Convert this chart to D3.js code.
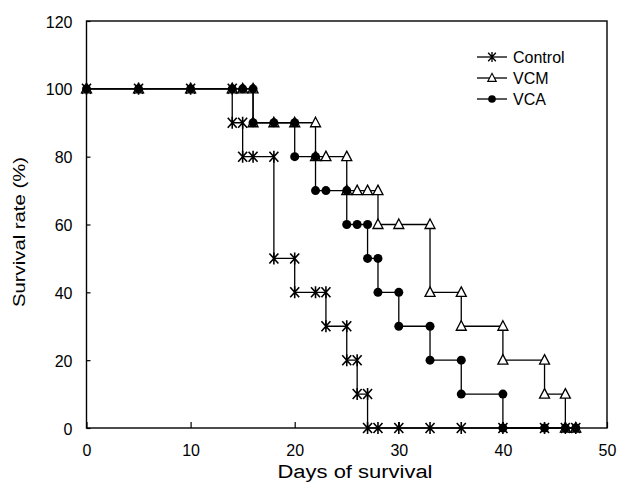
<!DOCTYPE html>
<html>
<head>
<meta charset="utf-8">
<script src="https://cdn.jsdelivr.net/npm/d3@7"></script>
<style>
  body { margin: 0; background: #fff; }
  text { font-family: "Liberation Sans", Arial, sans-serif; fill: #000; }
</style>
</head>
<body>
<script>
// data
let seriesNames = ["Control", "VCM", "VCA"];

let controlDays = [0,5,10,14,14,15,15,16,18,18,20,20,22,23,23,25,25,26,26,27,27,28,30,33,36,40,44,46,47];
let controlRate = [100,100,100,100,90,90,80,80,80,50,50,40,40,40,30,30,20,20,10,10,0,0,0,0,0,0,0,0,0];

let vcmDays = [0,5,10,14,15,16,16,18,20,22,22,23,25,25,26,27,28,28,30,33,33,36,36,40,40,44,44,46,46,47];
let vcmRate = [100,100,100,100,100,100,90,90,90,90,80,80,80,70,70,70,70,60,60,60,40,40,30,30,20,20,10,10,0,0];

let vcaDays = [0,5,10,14,15,16,16,18,20,20,22,22,23,25,25,26,27,27,28,28,30,30,33,33,36,36,40,40,44,46,47];
let vcaRate = [100,100,100,100,100,100,90,90,90,80,80,70,70,70,60,60,60,50,50,40,40,30,30,20,20,10,10,0,0,0,0];

let xTicks = [0,10,20,30,40,50];
let yTicks = [0,20,40,60,80,100,120];

init();

function init() {
  let width = 618, height = 486,
      margin = {l: 86.5, r: 11, t: 21, b: 58};

  let svg = d3.select("body")
              .append("svg")
              .attr("width", width)
              .attr("height", height);

  let x = d3.scaleLinear().domain([0, 50]).range([margin.l, width - margin.r]);
  let y = d3.scaleLinear().domain([0, 120]).range([height - margin.b, margin.t]);

  // frame
  svg.append("rect")
     .attr("x", x(0)).attr("y", y(120))
     .attr("width", x(50) - x(0)).attr("height", y(0) - y(120))
     .attr("fill", "none").attr("stroke", "#000").attr("stroke-width", 1.4);

  // axes, ticks point inward
  let xAxis = svg.append("g")
     .attr("transform", "translate(0," + y(0) + ")")
     .call(d3.axisBottom(x).tickValues(xTicks).tickSizeInner(-6).tickSizeOuter(0).tickPadding(17));
  let yAxis = svg.append("g")
     .attr("transform", "translate(" + x(0) + ",0)")
     .call(d3.axisLeft(y).tickValues(yTicks).tickSizeInner(-4).tickSizeOuter(0).tickPadding(14));

  [xAxis, yAxis].forEach(a => {
    a.select(".domain").remove();
    a.selectAll("line").attr("stroke", "#000").attr("stroke-width", 1.2);
    a.selectAll("text").style("font-size", "16px").style("font-family", "'Liberation Sans', Arial, sans-serif");
  });
  yAxis.selectAll("text").attr("dy", "0.38em");

  // axis titles
  svg.append("text")
     .attr("x", 355).attr("y", 478)
     .attr("text-anchor", "middle")
     .attr("textLength", 155).attr("lengthAdjust", "spacingAndGlyphs")
     .style("font-size", "18px")
     .text("Days of survival");

  svg.append("text")
     .attr("transform", "translate(25,232) rotate(-90)")
     .attr("text-anchor", "middle")
     .attr("textLength", 150).attr("lengthAdjust", "spacingAndGlyphs")
     .style("font-size", "17px")
     .text("Survival rate (%)");

  let series = [
    {name: seriesNames[0], days: controlDays, rate: controlRate, mark: "star"},
    {name: seriesNames[1], days: vcmDays, rate: vcmRate, mark: "tri"},
    {name: seriesNames[2], days: vcaDays, rate: vcaRate, mark: "dot"}
  ];

  let line = d3.line().x(d => x(d[0])).y(d => y(d[1]));

  series.forEach(s => {
    let pts = s.days.map((d, i) => [d, s.rate[i]]);
    svg.append("path")
       .datum(pts)
       .attr("d", line)
       .attr("fill", "none")
       .attr("stroke", "#000")
       .attr("stroke-width", 1.3);
  });

  series.forEach(s => {
    let pts = s.days.map((d, i) => [d, s.rate[i]]);
    pts.forEach(p => drawMark(svg, s.mark, x(p[0]), y(p[1])));
  });

  // legend
  let lx = 477, ly = [57, 78, 99];
  series.forEach((s, i) => {
    svg.append("line")
       .attr("x1", lx).attr("x2", lx + 30)
       .attr("y1", ly[i]).attr("y2", ly[i])
       .attr("stroke", "#000").attr("stroke-width", 1.3);
    drawMark(svg, s.mark, lx + 15, ly[i], 0.85);
    svg.append("text")
       .attr("x", lx + 36).attr("y", ly[i])
       .attr("dy", "0.36em")
       .style("font-size", "16px")
       .text(s.name);
  });
}

function drawMark(svg, type, cx, cy, k) {
  k = k || 1;
  let g = svg.append("g").attr("transform", "translate(" + cx + "," + cy + ") scale(" + k + ")");
  if (type == "star") {
    g.append("path")
     .attr("d", "M-4.5,-5L4.5,5M4.5,-5L-4.5,5M0,-6L0,6")
     .attr("stroke", "#000").attr("stroke-width", 1.6).attr("fill", "none");
  } else if (type == "tri") {
    g.append("path")
     .attr("d", "M0,-5.5L5,4L-5,4Z")
     .attr("stroke", "#000").attr("stroke-width", 1.3).attr("fill", "#fff");
  } else {
    g.append("circle")
     .attr("r", 4.5)
     .attr("fill", "#000");
  }
}
</script>
</body>
</html>
